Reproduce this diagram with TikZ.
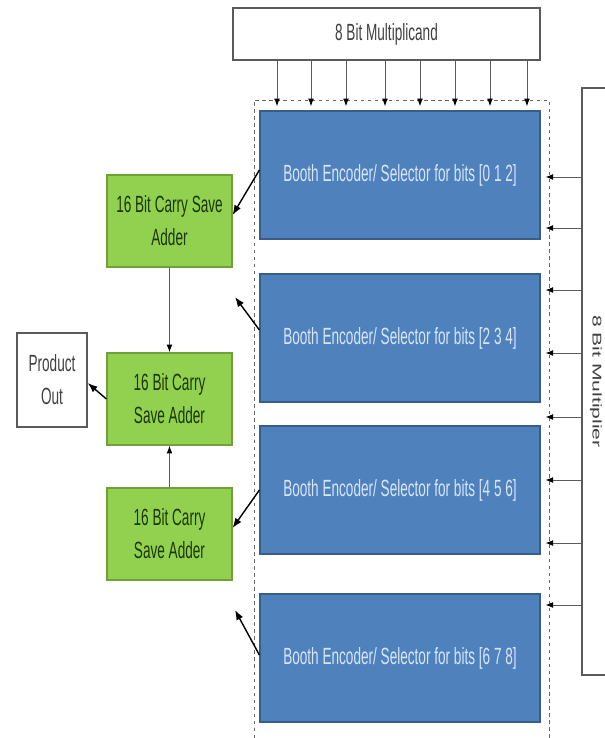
\documentclass[tikz,border=0pt]{standalone}
\usepackage{fontspec}
\usepackage{graphicx}
\usepackage{tikz}
\usetikzlibrary{arrows.meta, positioning, calc}
\newfontfamily\boxfont[FakeStretch=0.58]{Liberation Sans}
\newfontfamily\sidefont{Liberation Sans}
\definecolor{encblue}{RGB}{79,129,189}
\definecolor{encedge}{RGB}{56,93,138}
\definecolor{enctext}{RGB}{214,230,248}
\definecolor{csagreen}{RGB}{146,208,80}
\definecolor{csaedge}{RGB}{113,160,58}
\definecolor{csatext}{RGB}{27,55,0}
\definecolor{wire}{RGB}{90,90,90}

\begin{document}
\begin{tikzpicture}[
    x=0.3mm, y=-0.3mm,
    txt/.style={font=\boxfont\fontsize{20}{28}\selectfont, align=center, inner sep=0pt},
    encbox/.style={txt, rectangle, draw=encedge, line width=1pt, fill=encblue, text=enctext, minimum width=84mm, minimum height=38.4mm},
    csabox/.style={txt, rectangle, draw=csaedge, line width=1pt, fill=csagreen, text=csatext, minimum width=37.5mm, minimum height=27.6mm},
    iobox/.style={txt, rectangle, draw=wire, line width=1.2pt, fill=white, text=black!75},
    bus/.style={-{Latex[black]}, wire, line width=0.8pt},
    arrow/.style={-Latex, black, line width=1.2pt}
]
\useasboundingbox (0,0) rectangle (605,738);

% Dashed frame round the encoders
\node[rectangle, draw=black!60, dashed, line width=0.6pt, minimum width=88.5mm, minimum height=193.5mm] (frame) at (401.5,422.5) {};

% Inputs
\node[iobox, minimum width=92.1mm, minimum height=15.6mm] (mcand) at (386.5,34) {8 Bit Multiplicand};
\node[iobox, minimum width=8.4mm, minimum height=176.1mm] (mplier) at (596,381.5) {};
\node[rotate=-90, inner sep=0pt, text=black!75] at (mplier.center) {\scalebox{1}[0.6]{\sidefont\fontsize{18}{20}\selectfont 8 Bit Multiplier}};

% Booth encoders
\node[encbox] (encA) at (400,175) {Booth Encoder/ Selector for bits [0 1 2]};
\node[encbox] (encB) at (400,338) {Booth Encoder/ Selector for bits [2 3 4]};
\node[encbox] (encC) at (400,490) {Booth Encoder/ Selector for bits [4 5 6]};
\node[encbox] (encD) at (400,658) {Booth Encoder/ Selector for bits [6 7 8]};

% Carry save adders
\node[csabox] (csaA) at (169.5,221) {16 Bit Carry Save\\Adder};
\node[csabox] (csaB) at (169.5,399) {16 Bit Carry\\Save Adder};
\node[csabox] (csaC) at (169.5,534) {16 Bit Carry\\Save Adder};

% Output
\node[iobox, minimum width=21mm, minimum height=28.2mm] (pout) at (52,380) {Product\\Out};

% Free ends
\coordinate (tapB) at (235,297);
\coordinate (tapD) at (235,610);

% Arrows
\foreach \x in {277,311,346,385,420,455,490,527}
    \draw[bus, shorten >=-2mm] (mcand.south -| \x,0) -- (frame.north -| \x,0);
\foreach \y in {177,228,290,353,417,480,543,605}
    \draw[bus, shorten >=-1.2mm] (mplier.west |- 0,\y) -- (frame.east |- 0,\y);
\draw[arrow] ([yshift=1.5mm]encA.west) -- ([yshift=1.8mm]csaA.east);
\draw[arrow] ([yshift=2.4mm]encB.west) -- (tapB);
\draw[arrow] (encC.west) -- ([yshift=1.8mm]csaC.east);
\draw[arrow] ([yshift=0.9mm]encD.west) -- (tapD);
\draw[bus] (csaA) -- (csaB);
\draw[bus] (csaC) -- (csaB);
\draw[arrow] (csaB.west) -- ([yshift=-0.9mm]pout.east);

\end{tikzpicture}
\end{document}
